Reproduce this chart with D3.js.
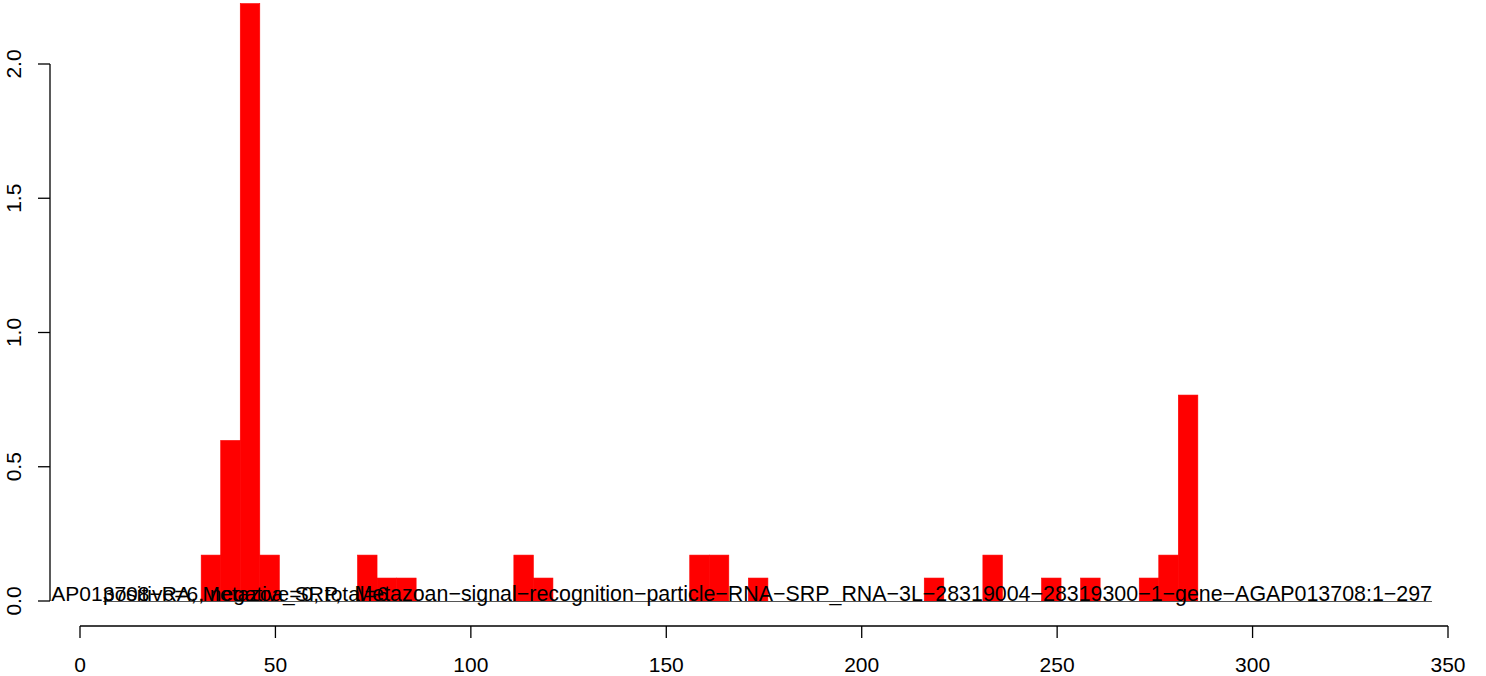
<!DOCTYPE html>
<html>
<head>
<meta charset="utf-8">
<script src="https://cdn.jsdelivr.net/npm/d3@7/dist/d3.min.js"></script>
<style>
  html, body { margin: 0; padding: 0; background: #fff; }
  svg { display: block; }
  text { font-family: "Liberation Sans", Arial, sans-serif; fill: #000; }
</style>
</head>
<body>
<svg id="chart" width="1486" height="676"></svg>
<script>
// ---- data ----
const binStarts = [31, 36, 41, 46, 71, 76, 81, 111, 116, 156, 161, 171, 216, 231, 246, 256, 271, 276, 281];
const binValues = [0.171, 0.598, 2.225, 0.171, 0.171, 0.0855, 0.0855, 0.171, 0.0855, 0.171, 0.171, 0.0855, 0.0855, 0.171, 0.0855, 0.0855, 0.0855, 0.171, 0.767];
const binWidth = 5;
const xTicks = [0, 50, 100, 150, 200, 250, 300, 350];
const yTicks = [0, 0.5, 1.0, 1.5, 2.0];
const yTickLabels = ["0.0", "0.5", "1.0", "1.5", "2.0"];
const labelA = "AGAP013708-RA, Metazoa_SRP,";
const labelB = "positive=6, negative=0, total=6";
const labelC = "Metazoan-signal-recognition-particle-RNA-SRP_RNA-3L-28319004-28319300-1-gene-AGAP013708:1-297";
const segment = [5.9, 345.9];

// ---- layout ----
const svg = d3.select("#chart");
const x = d3.scaleLinear().domain([0, 350]).range([80, 1448]);
const y = d3.scaleLinear().domain([0, 2]).range([601, 64]);
const fs = 21;
const disp = s => s.replace(/-/g, "\u2212");

svg.append("defs").append("clipPath").attr("id", "plotclip")
  .append("rect").attr("x", 50).attr("y", 0).attr("width", 1436).attr("height", 620);

const plot = svg.append("g").attr("clip-path", "url(#plotclip)");

plot.selectAll("rect.bar").data(binStarts).enter().append("rect")
  .attr("class", "bar")
  .attr("x", d => x(d))
  .attr("width", d => x(d + binWidth) - x(d))
  .attr("y", (d, i) => y(binValues[i]))
  .attr("height", (d, i) => y(0) - y(binValues[i]))
  .attr("fill", "#ff0000")
  .attr("stroke", "#ff0000")
  .attr("stroke-width", 0.6);

plot.append("line")
  .attr("x1", x(segment[0])).attr("x2", x(segment[1]))
  .attr("y1", y(0) + 0.5).attr("y2", y(0) + 0.5)
  .attr("stroke", "#555").attr("stroke-width", 1.2);

plot.append("text").attr("x", 21).attr("y", y(0))
  .style("font-size", fs + "px").text(disp(labelA));
plot.append("text").attr("x", 103).attr("y", y(0))
  .style("font-size", fs + "px").text(disp(labelB));
plot.append("text").attr("x", x(segment[1])).attr("y", y(0))
  .attr("text-anchor", "end")
  .style("font-size", "21.4px").text(disp(labelC));

// y axis
const ya = svg.append("g");
ya.append("line").attr("x1", 50).attr("x2", 50).attr("y1", y(0)).attr("y2", y(2))
  .attr("stroke", "#000").attr("stroke-width", 1.3);
ya.selectAll("line.t").data(yTicks).enter().append("line").attr("class", "t")
  .attr("x1", 38).attr("x2", 50).attr("y1", d => y(d)).attr("y2", d => y(d))
  .attr("stroke", "#000").attr("stroke-width", 1.3);
ya.selectAll("text").data(yTicks).enter().append("text")
  .attr("transform", d => `translate(21,${y(d)}) rotate(-90)`)
  .attr("text-anchor", "middle")
  .style("font-size", fs + "px")
  .text((d, i) => yTickLabels[i]);

// x axis
const xa = svg.append("g");
xa.append("line").attr("x1", x(0)).attr("x2", x(350)).attr("y1", 626).attr("y2", 626)
  .attr("stroke", "#000").attr("stroke-width", 1.3);
xa.selectAll("line.t").data(xTicks).enter().append("line").attr("class", "t")
  .attr("x1", d => x(d)).attr("x2", d => x(d)).attr("y1", 626).attr("y2", 638)
  .attr("stroke", "#000").attr("stroke-width", 1.3);
xa.selectAll("text").data(xTicks).enter().append("text")
  .attr("x", d => x(d)).attr("y", 672)
  .attr("text-anchor", "middle")
  .style("font-size", fs + "px")
  .text(d => d);
</script>
</body>
</html>
